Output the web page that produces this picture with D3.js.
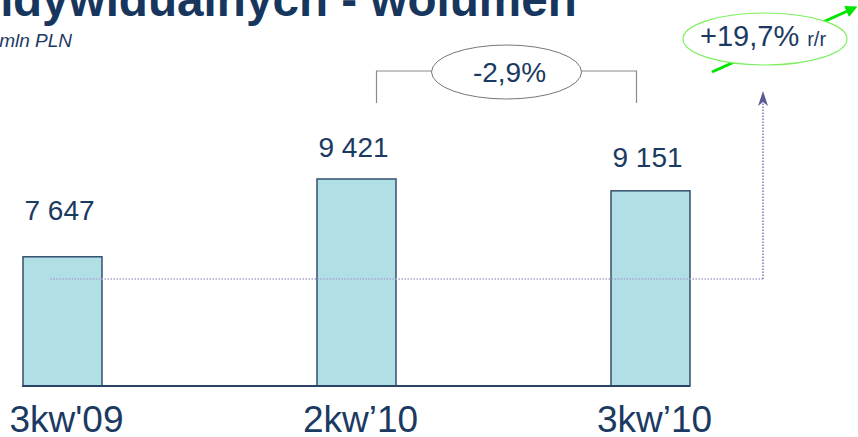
<!DOCTYPE html>
<html>
<head>
<meta charset="utf-8">
<script src="https://cdn.jsdelivr.net/npm/d3@7"></script>
<style>
  body { margin: 0; background: #fff; }
  text { font-family: "Liberation Sans", Arial, sans-serif; fill: #1b3a62; }
</style>
</head>
<body>
<script>
var w = 858;
var h = 437;

var quarters = ["3kw'09", "2kw\u201910", "3kw\u201910"];
var volumes = [7647, 9421, 9151];
var changeQoQ = "-2,9%";
var changeYoY = "+19,7%";

var locale = d3.formatLocale({decimal: ",", thousands: " ", grouping: [3], currency: ["", " PLN"]});
var fmt = locale.format(",");

var svg = d3.select("body").append("svg")
    .attr("width", w)
    .attr("height", h);

var defs = svg.append("defs");
defs.append("marker")
    .attr("id", "greenHead")
    .attr("viewBox", "0 0 10 10")
    .attr("refX", 5).attr("refY", 5)
    .attr("markerWidth", 4).attr("markerHeight", 4)
    .attr("orient", "auto")
  .append("path")
    .attr("d", "M0,0 L10,5 L0,10 Z")
    .attr("fill", "#00e600");

// title, cut at the top like on the slide
var titleHead = "Kredyty dla klientów in";
var titleTail = "dywidualnych - wolumen";
var title = svg.append("text")
    .attr("x", 0).attr("y", 16)
    .style("font-size", "40px").style("font-weight", "bold")
    .style("fill", "#17365d")
    .text(titleHead + titleTail);
// fit so that "dywidualnych - wolumen" runs from x=13 to x=577
var tailLen = title.node().getSubStringLength(titleHead.length, titleTail.length);
var fs = 40 * (577 - 13) / tailLen;
title.style("font-size", fs + "px");
var headLen = title.node().getSubStringLength(0, titleHead.length);
title.attr("x", 13 - headLen);

svg.append("text")
    .attr("x", 72).attr("y", 47)
    .attr("text-anchor", "end")
    .style("font-size", "19px").style("font-style", "italic")
    .text("mln PLN");

var x = d3.scalePoint()
    .domain(quarters)
    .range([62.5, 650.5]);

var y = d3.scaleLinear()
    .domain([4700, 10000])
    .range([386, 153.6]);

// label baselines sit on a flatter scale than the bars
var yLabel = d3.scaleLinear()
    .domain([7647, 9421])
    .range([220, 157]);

var barW = 79;

var bars = svg.selectAll(".bar")
    .data(volumes)
    .enter().append("rect")
    .attr("class", "bar")
    .attr("x", function(d, i) { return x(quarters[i]) - barW / 2; })
    .attr("y", function(d) { return y(d); })
    .attr("width", barW)
    .attr("height", function(d) { return y.range()[0] - y(d); })
    .attr("fill", "#b0dfe5")
    .attr("stroke", "#34506f")
    .attr("stroke-width", 1.5);

svg.append("line")
    .attr("x1", x(quarters[0]) - barW / 2 - 1).attr("x2", x(quarters[2]) + barW / 2)
    .attr("y1", y.range()[0]).attr("y2", y.range()[0])
    .attr("stroke", "#2c4463").attr("stroke-width", 2);

// reference line from the first quarter level, drawn over the bars
var refY = 279;
var arrowX = 763;
svg.append("line")
    .attr("x1", x(quarters[0]) - 12).attr("x2", arrowX)
    .attr("y1", refY).attr("y2", refY)
    .attr("stroke", "#a9a6cc").attr("stroke-width", 1.5)
    .attr("stroke-dasharray", "1.5,1.5");
svg.append("line")
    .attr("x1", arrowX).attr("x2", arrowX)
    .attr("y1", refY).attr("y2", 100)
    .attr("stroke", "#7c7aae").attr("stroke-width", 1.5)
    .attr("stroke-dasharray", "1.5,1.5");
svg.append("path")
    .attr("d", "M" + arrowX + ",91 L" + (arrowX + 5) + ",106 L" + arrowX + ",102 L" + (arrowX - 5) + ",106 Z")
    .attr("fill", "#5b5a94");

svg.selectAll(".val")
    .data(volumes)
    .enter().append("text")
    .attr("class", "val")
    .attr("x", function(d, i) { return x(quarters[i]) - 3; })
    .attr("y", function(d) { return yLabel(d); })
    .attr("text-anchor", "middle")
    .style("font-size", "28px")
    .text(function(d) { return fmt(d); });

svg.selectAll(".cat")
    .data(quarters)
    .enter().append("text")
    .attr("class", "cat")
    .attr("x", function(d) { return x(d) + 4; })
    .attr("y", 432)
    .attr("text-anchor", "middle")
    .style("font-size", "37px")
    .text(function(d) { return d; });

// bracket between 2kw'10 and 3kw'10
var bL = x(quarters[1]) + 20, bR = x(quarters[2]) - 14;
var bTop = 71, bBot = 103;
var qCx = (bL + bR) / 2;
svg.append("path")
    .attr("d", "M" + bL + "," + bBot + " V" + bTop + " H" + qCx + " H" + bR + " V" + bBot)
    .attr("fill", "none").attr("stroke", "#8a8a8a").attr("stroke-width", 1.2);
svg.append("ellipse")
    .attr("cx", qCx).attr("cy", 72).attr("rx", 75).attr("ry", 27)
    .attr("fill", "#fff").attr("stroke", "#777").attr("stroke-width", 1);
svg.append("text")
    .attr("x", qCx + 3).attr("y", 82)
    .attr("text-anchor", "middle")
    .style("font-size", "28px")
    .text(changeQoQ);

// y/y bubble with green arrow
svg.append("line")
    .attr("x1", 712).attr("y1", 72).attr("x2", 852).attr("y2", 9)
    .attr("stroke", "#00e600").attr("stroke-width", 3)
    .attr("marker-end", "url(#greenHead)");
svg.append("ellipse")
    .attr("cx", 765).attr("cy", 39).attr("rx", 82).attr("ry", 26)
    .attr("fill", "#fff").attr("stroke", "#7cf05c").attr("stroke-width", 1.2);
var yy = svg.append("text")
    .attr("x", 700).attr("y", 46)
    .style("font-size", "29px");
yy.append("tspan").text(changeYoY);
yy.append("tspan").style("font-size", "20px").attr("dx", 8).text("r/r");
</script>
</body>
</html>
